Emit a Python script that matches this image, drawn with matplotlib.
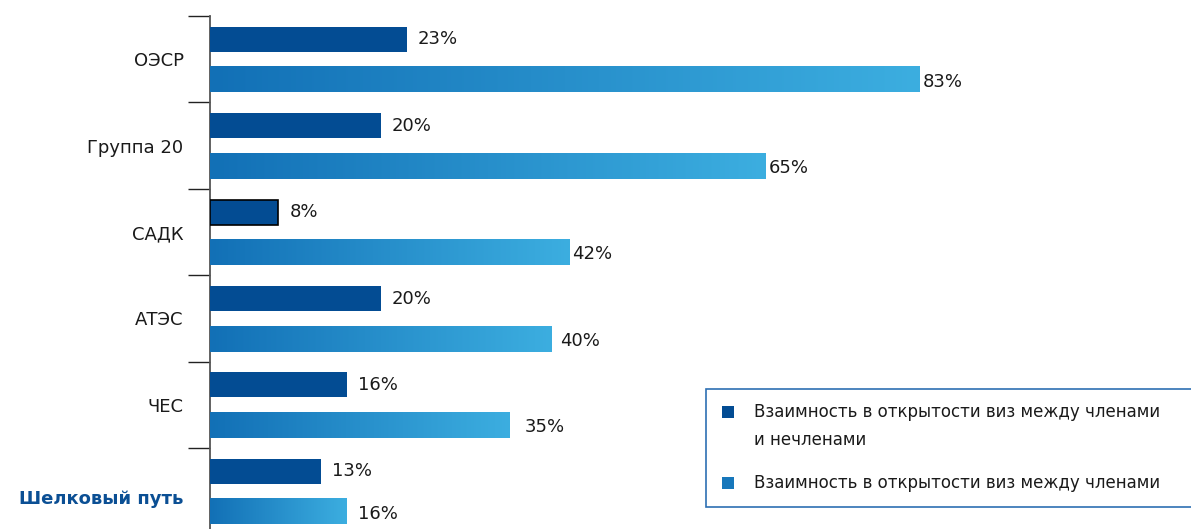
"""Visa openness reciprocity by regional group: horizontal bar chart."""

import numpy as np
import matplotlib
matplotlib.use("Agg")
import matplotlib.pyplot as plt
from matplotlib.colors import LinearSegmentedColormap
from matplotlib.patches import Rectangle

plt.rcParams["font.family"] = ["DejaVu Sans"]

# Data
groups = ["ОЭСР", "Группа 20", "САДК", "АТЭС", "ЧЕС", "Шелковый путь"]
members_nonmembers = [23, 20, 8, 20, 16, 13]
members_only = [83, 65, 42, 40, 35, 16]
legend_labels = [
    "Взаимность в открытости виз между членами\nи нечленами",
    "Взаимность в открытости виз между членами",
]

# Styling
W, H = 1191, 529
DARK = "#034c93"
GRAD_START = "#1270b6"
GRAD_END = "#3caee0"
TEXT = "#1a1a1a"
AXIS = "#555555"
PX_PER_UNIT = 8.55  # px per percent
light_label_gap = [3, 3, 3, 8, 15, 11]  # px after bar end
dark_label_gap = 11
FS = 13

fig = plt.figure(figsize=(W / 100, H / 100), dpi=100)
ax_left, ax_top = 210, 16
ax = fig.add_axes([ax_left / W, 0, (W - ax_left) / W, (H - ax_top) / H])
xmax = (W - ax_left) / PX_PER_UNIT
ylim_bottom = (H - ax_top) / 86.4

cmap = LinearSegmentedColormap.from_list("bar", [GRAD_START, GRAD_END])
grad = np.linspace(0, 1, 256).reshape(1, -1)

bar_h = 0.29
for i, (d, m) in enumerate(zip(members_nonmembers, members_only)):
    yd = i + 0.27
    yl = i + 0.74
    edge = "black" if i == 2 else DARK
    lw = 1.2 if i == 2 else 0
    ax.barh(yd, d, height=bar_h, color=DARK, edgecolor=edge, linewidth=lw, zorder=3)
    ax.imshow(grad, cmap=cmap, aspect="auto", extent=[0, m, yl + bar_h / 2, yl - bar_h / 2],
              zorder=3, interpolation="bicubic")
    ax.text(d + dark_label_gap / PX_PER_UNIT, yd, f"{d}%", va="center", ha="left",
            fontsize=FS, color=TEXT)
    ax.text(m + light_label_gap[i] / PX_PER_UNIT, yl + 0.02, f"{m}%", va="center", ha="left",
            fontsize=FS, color=TEXT)

ax.set_xlim(0, xmax)
ax.set_ylim(ylim_bottom, 0)

for s in ["top", "right", "bottom"]:
    ax.spines[s].set_visible(False)
ax.spines["left"].set_color(AXIS)
ax.spines["left"].set_linewidth(1.3)
ax.set_xticks([])

label_pos = [i + 0.5 for i in range(len(groups))]
label_pos[-1] = 5.57
ax.set_yticks(label_pos)
ax.set_yticklabels(groups, fontsize=FS, color=TEXT)
ax.set_yticks(range(len(groups)), minor=True)
ax.tick_params(axis="y", which="major", length=0, pad=19)
ax.tick_params(axis="y", which="minor", length=15.8, width=1.0, color="#222222")
last = ax.get_yticklabels()[-1]
last.set_fontweight("bold")
last.set_color("#0b4f94")


def px(x, y):
    return x / W, 1 - y / H


# Legend box
x0, y0 = px(706, 507)
fig.add_artist(Rectangle((x0, y0), (W + 5 - 706) / W, (507 - 389) / H, transform=fig.transFigure,
                         facecolor="white", edgecolor="#2d6fb3", linewidth=1.2))
for (sy, ty), lab, col in zip([(412, 426), (483, 483)], legend_labels, [DARK, "#1777bb"]):
    sx, syf = px(722, sy + 6)
    fig.add_artist(Rectangle((sx, syf), 12 / W, 12 / H, transform=fig.transFigure,
                             facecolor=col, edgecolor="none"))
    tx, tyf = px(754, ty)
    fig.text(tx, tyf, lab, ha="left", va="center", fontsize=12, color=TEXT, linespacing=1.7)

fig.savefig("out.png", dpi=100)
